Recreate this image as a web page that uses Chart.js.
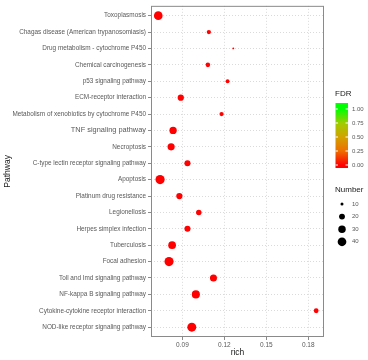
<!DOCTYPE html>
<html>
<head>
<meta charset="utf-8">
<script src="https://cdn.jsdelivr.net/npm/chart.js@4"></script>
<style>
html, body { margin: 0; padding: 0; background: #fff; }
</style>
</head>
<body>
<canvas id="chartDot" width="368" height="360"></canvas>
<script>
const chartDot = document.getElementById("chartDot");

// Data
const pathways = [
	"Toxoplasmosis",
	"Chagas disease (American trypanosomiasis)",
	"Drug metabolism - cytochrome P450",
	"Chemical carcinogenesis",
	"p53 signaling pathway",
	"ECM-receptor interaction",
	"Metabolism of xenobiotics by cytochrome P450",
	"TNF signaling pathway",
	"Necroptosis",
	"C-type lectin receptor signaling pathway",
	"Apoptosis",
	"Platinum drug resistance",
	"Legionellosis",
	"Herpes simplex infection",
	"Tuberculosis",
	"Focal adhesion",
	"Toll and Imd signaling pathway",
	"NF-kappa B signaling pathway",
	"Cytokine-cytokine receptor interaction",
	"NOD-like receptor signaling pathway"
];
const rich = [0.0727, 0.1089, 0.1264, 0.1082, 0.1223, 0.0888, 0.1180, 0.0833, 0.0819, 0.0936,
	0.0740, 0.0878, 0.1017, 0.0936, 0.0826, 0.0804, 0.1122, 0.0996, 0.1857, 0.0967];
const number = [40, 13, 9, 14, 12, 22, 13, 29, 28, 21, 45, 22, 18, 21, 32, 44, 27, 35, 15, 43];
const fdr = [0.001, 0.002, 0.004, 0.003, 0.003, 0.002, 0.004, 0.001, 0.001, 0.002,
	0.001, 0.002, 0.003, 0.002, 0.001, 0.001, 0.002, 0.001, 0.003, 0.001];
const xTicks = [0.09, 0.12, 0.15, 0.18];
const fdrTicks = [0, 0.25, 0.5, 0.75, 1];
const numberTicks = [10, 20, 30, 40];

const fontFam = "'Liberation Sans', Arial, sans-serif";
const gradStops = ['#ff0000', '#ee6e00', '#d2a300', '#a0cc00', '#00ff00'];

// point size like ggplot area scale
function sizeOf(n) {
	return 0.9 + 3.7 * Math.sqrt(Math.max(n - 9, 0) / 36);
}

function hexToRgb(h) {
	return [parseInt(h.substr(1, 2), 16), parseInt(h.substr(3, 2), 16), parseInt(h.substr(5, 2), 16)];
}

function colourOf(v) {
	let p = Math.min(Math.max(v, 0), 1) * (gradStops.length - 1);
	let i = Math.min(Math.floor(p), gradStops.length - 2);
	let t = p - i;
	let a = hexToRgb(gradStops[i]), b = hexToRgb(gradStops[i + 1]);
	let c = a.map((x, k) => Math.round(x + (b[k] - x) * t));
	return 'rgb(' + c.join(',') + ')';
}

// legends + panel border
const legendPlugin = {
	id: 'legendPlugin',
	afterDraw(chart) {
		const ctx = chart.ctx;
		const area = chart.chartArea;
		ctx.save();

		// panel border
		ctx.strokeStyle = '#8a8a8a';
		ctx.lineWidth = 1;
		ctx.strokeRect(area.left + 0.5, area.top + 0.5, area.right - area.left - 1, area.bottom - area.top - 1);

		// FDR colour bar
		const bx = 335.5, bw = 12.5, bTop = 103, bBot = 168;
		const v0 = 165, v1 = 109;
		ctx.fillStyle = '#1a1a1a';
		ctx.font = "8px " + fontFam;
		ctx.textAlign = 'left';
		ctx.textBaseline = 'middle';
		ctx.fillText('FDR', 335, 94);

		const grad = ctx.createLinearGradient(0, v0, 0, v1);
		gradStops.forEach(function(c, i) {
			grad.addColorStop(i / (gradStops.length - 1), c);
		});
		ctx.fillStyle = grad;
		ctx.fillRect(bx, bTop, bw, bBot - bTop);

		ctx.font = "6px " + fontFam;
		fdrTicks.forEach(function(v) {
			let y = v0 + (v1 - v0) * v;
			ctx.strokeStyle = '#ffffff';
			ctx.beginPath();
			ctx.moveTo(bx, y); ctx.lineTo(bx + 2.5, y);
			ctx.moveTo(bx + bw - 2.5, y); ctx.lineTo(bx + bw, y);
			ctx.stroke();
			ctx.fillStyle = '#595959';
			ctx.fillText(v.toFixed(2), 352, y);
		});

		// Number size legend
		ctx.fillStyle = '#1a1a1a';
		ctx.font = "8px " + fontFam;
		ctx.fillText('Number', 335, 190);
		ctx.font = "6px " + fontFam;
		numberTicks.forEach(function(n, i) {
			let y = 204 + i * 12.6;
			ctx.fillStyle = '#000000';
			ctx.beginPath();
			ctx.arc(342, y, sizeOf(n), 0, Math.PI * 2);
			ctx.fill();
			ctx.fillStyle = '#595959';
			ctx.fillText(String(n), 352, y);
		});
		ctx.restore();
	}
};

const dotChart = new Chart(chartDot, {
	type: 'scatter',
	data: {
		datasets: [{
			data: pathways.map(function(p, i) { return { x: rich[i], y: i }; }),
			pointRadius: number.map(sizeOf),
			pointHoverRadius: number.map(sizeOf),
			pointBackgroundColor: fdr.map(colourOf),
			pointBorderWidth: 0,
			borderWidth: 0
		}]
	},
	options: {
		responsive: false,
		animation: false,
		devicePixelRatio: 1,
		layout: {
			padding: { left: 3, right: 44, top: 3, bottom: 2 }
		},
		plugins: {
			legend: { display: false },
			tooltip: { enabled: false }
		},
		scales: {
			x: {
				type: 'linear',
				min: 0.0675,
				max: 0.1913,
				afterBuildTicks: function(scale) {
					scale.ticks = xTicks.map(function(v) { return { value: v }; });
				},
				afterFit: function(scale) { scale.height = 21; },
				ticks: {
					callback: function(v) { return v.toFixed(2); },
					color: '#595959',
					font: { family: fontFam, size: 6.5 },
					padding: 1,
					maxRotation: 0
				},
				grid: {
					color: '#dadada',
					tickColor: '#8a8a8a',
					tickLength: 3,
					tickBorderDash: []
				},
				border: { display: false, dash: [1, 2] },
				title: {
					display: true,
					text: 'rich',
					color: '#1a1a1a',
					font: { family: fontFam, size: 8.5 },
					padding: 0
				}
			},
			y: {
				type: 'linear',
				reverse: true,
				min: -0.6,
				max: 19.6,
				afterBuildTicks: function(scale) {
					scale.ticks = pathways.map(function(p, i) { return { value: i }; });
				},
				afterFit: function(scale) { scale.width = 148; },
				ticks: {
					callback: function(v) { return pathways[v]; },
					autoSkip: false,
					color: '#595959',
					font: function(c) {
						let big = c.tick && pathways[c.tick.value] === 'TNF signaling pathway';
						return { family: fontFam, size: big ? 7.4 : 6.4 };
					},
					padding: 2
				},
				grid: {
					color: '#dadada',
					tickColor: '#8a8a8a',
					tickLength: 3,
					tickBorderDash: []
				},
				border: { display: false, dash: [1, 2] },
				title: {
					display: true,
					text: 'Pathway',
					color: '#1a1a1a',
					font: { family: fontFam, size: 8.5 },
					padding: 0
				}
			}
		}
	},
	plugins: [legendPlugin]
});
</script>
</body>
</html>
